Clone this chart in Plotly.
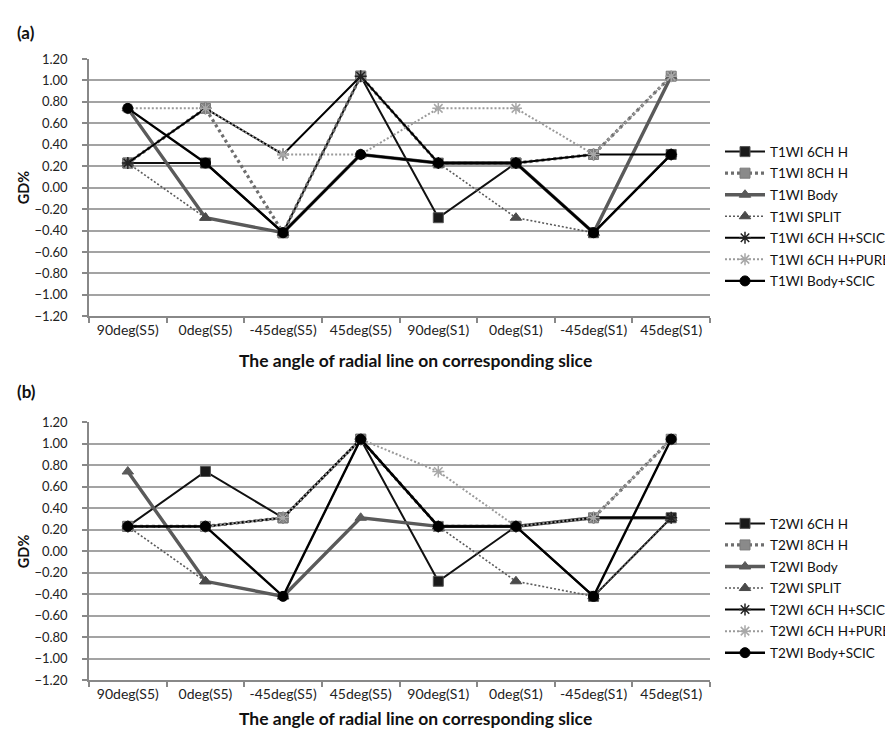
import plotly.graph_objects as go

categories = ["90deg(S5)", "0deg(S5)", "-45deg(S5)", "45deg(S5)",
              "90deg(S1)", "0deg(S1)", "-45deg(S1)", "45deg(S1)"]
y_ticks = [1.2, 1.0, 0.8, 0.6, 0.4, 0.2, 0.0, -0.2, -0.4, -0.6, -0.8, -1.0, -1.2]

# Panel (a) T1WI
t1_6ch_h      = [0.23, 0.23, -0.42, 1.04, -0.28, 0.23, -0.42, 0.31]
t1_8ch_h      = [0.23, 0.74, -0.42, 1.04, 0.23, 0.23, 0.31, 1.04]
t1_body       = [0.74, -0.28, -0.42, 0.31, 0.23, 0.23, -0.42, 1.04]
t1_split      = [0.23, -0.28, -0.42, 0.31, 0.23, -0.28, -0.42, 0.31]
t1_6ch_scic   = [0.23, 0.74, 0.31, 1.04, 0.23, 0.23, 0.31, 0.31]
t1_6ch_pure   = [0.74, 0.74, 0.31, 0.31, 0.74, 0.74, 0.31, 1.04]
t1_body_scic  = [0.74, 0.23, -0.42, 0.31, 0.23, 0.23, -0.42, 0.31]

# Panel (b) T2WI
t2_6ch_h      = [0.23, 0.74, 0.31, 1.04, -0.28, 0.23, -0.42, 0.31]
t2_8ch_h      = [0.23, 0.23, 0.31, 1.04, 0.23, 0.23, 0.31, 1.04]
t2_body       = [0.74, -0.28, -0.42, 0.31, 0.23, 0.23, 0.31, 0.31]
t2_split      = [0.23, -0.28, -0.42, 1.04, 0.23, -0.28, -0.42, 0.31]
t2_6ch_scic   = [0.23, 0.23, 0.31, 1.04, 0.23, 0.23, 0.31, 0.31]
t2_6ch_pure   = [0.23, 0.23, 0.31, 1.04, 0.74, 0.23, 0.31, 1.04]
t2_body_scic  = [0.23, 0.23, -0.42, 1.04, 0.23, 0.23, -0.42, 1.04]

FONT = "Lato, 'Open Sans', sans-serif"
W, H = 893, 739

styles = [
    dict(line=dict(color="#111111", width=2), marker=dict(symbol="square", size=10, color="#1a1a1a", line=dict(color="#555555", width=1))),
    dict(line=dict(color="#6e6e6e", width=3.2, dash="3px,3px"), marker=dict(symbol="square", size=10, color="#8a8a8a", line=dict(color="#7a7a7a", width=1))),
    dict(line=dict(color="#5a5a5a", width=3.4), marker=dict(symbol="triangle-up", size=10, color="#5a5a5a", line=dict(color="#5a5a5a", width=1))),
    dict(line=dict(color="#5a5a5a", width=1.6, dash="2px,2px"), marker=dict(symbol="triangle-up", size=10, color="#4a4a4a", line=dict(color="#4a4a4a", width=1))),
    dict(line=dict(color="#000000", width=2), marker=dict(symbol="asterisk-open", size=10, color="#222222", line=dict(color="#222222", width=1.5))),
    dict(line=dict(color="#9a9a9a", width=2, dash="2px,2px"), marker=dict(symbol="asterisk-open", size=10, color="#a8a8a8", line=dict(color="#a8a8a8", width=1.5))),
    dict(line=dict(color="#000000", width=2.4), marker=dict(symbol="circle", size=10, color="#000000", line=dict(color="#000000", width=1))),
]

panel_a = [("T1WI 6CH H", t1_6ch_h), ("T1WI 8CH H", t1_8ch_h), ("T1WI Body", t1_body),
           ("T1WI SPLIT", t1_split), ("T1WI 6CH H+SCIC", t1_6ch_scic),
           ("T1WI 6CH H+PURE", t1_6ch_pure), ("T1WI Body+SCIC", t1_body_scic)]
panel_b = [("T2WI 6CH H", t2_6ch_h), ("T2WI 8CH H", t2_8ch_h), ("T2WI Body", t2_body),
           ("T2WI SPLIT", t2_split), ("T2WI 6CH H+SCIC", t2_6ch_scic),
           ("T2WI 6CH H+PURE", t2_6ch_pure), ("T2WI Body+SCIC", t2_body_scic)]

fig = go.Figure()
for i, (name, vals) in enumerate(panel_a):
    fig.add_trace(go.Scatter(x=categories, y=vals, name=name, mode="lines+markers",
                             xaxis="x", yaxis="y", legend="legend", legendgroup="a%d" % i,
                             **styles[i]))
for i, (name, vals) in enumerate(panel_b):
    fig.add_trace(go.Scatter(x=categories, y=vals, name=name, mode="lines+markers",
                             xaxis="x2", yaxis="y2", legend="legend2", legendgroup="b%d" % i,
                             **styles[i]))

def px_x(p):
    return p / W

def px_y(p):
    return 1 - p / H

x_dom = [px_x(81), px_x(702)]
ya_dom = [px_y(307), px_y(44)]
yb_dom = [px_y(679), px_y(415)]

xaxis_common = dict(type="category", categoryorder="array", categoryarray=categories,
                    range=[-0.5, 7.5], showgrid=False, showline=True, linecolor="#888888",
                    linewidth=1.5, ticks="outside", tickson="boundaries", ticklen=5,
                    tickcolor="#888888", tickwidth=1.5,
                    tickfont=dict(family=FONT, size=14, color="#222222"), zeroline=False,
                    fixedrange=True)
yaxis_common = dict(range=[-1.2, 1.2], tickvals=y_ticks, tickformat=".2f",
                    showgrid=True, gridcolor="#a3a3a3", gridwidth=1.6,
                    showline=True, linecolor="#888888", linewidth=1.5,
                    ticks="outside", ticklen=5, tickcolor="#888888", tickwidth=1.5,
                    ticklabelstandoff=12,
                    tickfont=dict(family=FONT, size=13, color="#222222"),
                    zeroline=False, fixedrange=True)

legend_common = dict(font=dict(family=FONT, size=13.5, color="#111111"),
                     bgcolor="rgba(0,0,0,0)", itemwidth=40, tracegroupgap=1,
                     xanchor="left", yanchor="top", traceorder="grouped")

fig.update_layout(
    width=W, height=H,
    margin=dict(l=0, r=0, t=0, b=0),
    paper_bgcolor="white", plot_bgcolor="white",
    font=dict(family=FONT, color="#111111"),
    xaxis=dict(domain=x_dom, anchor="y", **xaxis_common),
    yaxis=dict(domain=ya_dom, anchor="x", **yaxis_common),
    xaxis2=dict(domain=x_dom, anchor="y2", **xaxis_common),
    yaxis2=dict(domain=yb_dom, anchor="x2", **yaxis_common),
    legend=dict(x=px_x(712), y=px_y(123), **legend_common),
    legend2=dict(x=px_x(712), y=px_y(503), **legend_common),
    showlegend=True,
)

annotations = [
    dict(text="<b>(a)</b>", x=px_x(7), y=px_y(17), xanchor="left", yanchor="middle",
         font=dict(size=17)),
    dict(text="<b>(b)</b>", x=px_x(7), y=px_y(384), xanchor="left", yanchor="middle",
         font=dict(size=17)),
    dict(text="<b>GD%</b>", x=px_x(15), y=px_y(175), textangle=-90, xanchor="center",
         yanchor="middle", font=dict(size=14.5)),
    dict(text="<b>GD%</b>", x=px_x(15), y=px_y(547), textangle=-90, xanchor="center",
         yanchor="middle", font=dict(size=14.5)),
    dict(text="<b>The angle of radial line on corresponding slice</b>", x=px_x(407),
         y=px_y(352), xanchor="center", yanchor="middle", font=dict(size=17.5)),
    dict(text="<b>The angle of radial line on corresponding slice</b>", x=px_x(407),
         y=px_y(718), xanchor="center", yanchor="middle", font=dict(size=17.5)),
]
for a in annotations:
    a.update(xref="paper", yref="paper", showarrow=False)
    a["font"].update(family=FONT, color="#111111")
fig.update_layout(annotations=annotations)

fig.write_html("out.html")
